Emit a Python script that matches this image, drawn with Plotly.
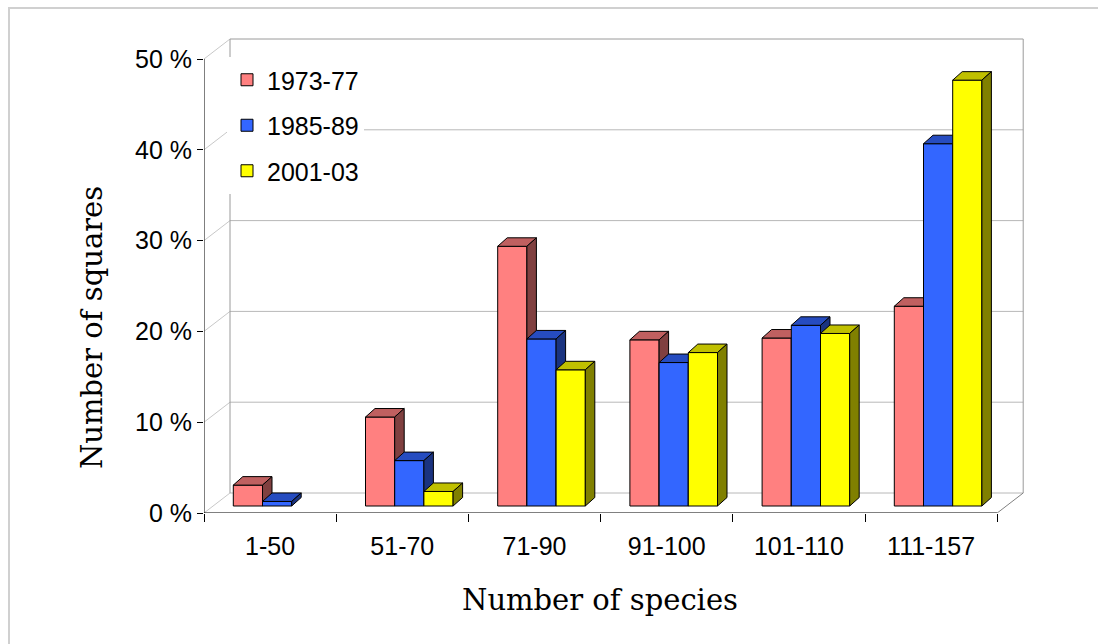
import plotly.graph_objects as go

# ---- data -------------------------------------------------------------
categories = ["1-50", "51-70", "71-90", "91-100", "101-110", "111-157"]
periods = ["1973-77", "1985-89", "2001-03"]
share_1973_77 = [2.3, 9.8, 28.6, 18.3, 18.5, 22.0]
share_1985_89 = [0.5, 5.0, 18.4, 15.8, 19.9, 39.9]
share_2001_03 = [0.0, 1.6, 15.0, 16.9, 19.0, 46.9]
y_ticks = [0, 10, 20, 30, 40, 50]

series = [share_1973_77, share_1985_89, share_2001_03]
front_colors = ["#FF8080", "#3366FF", "#FFFF00"]
top_colors = ["#C06060", "#264CC0", "#C0C000"]
side_colors = ["#804040", "#1A3380", "#808000"]

# ---- page geometry (pixels) ------------------------------------------
FIG_W, FIG_H = 1098, 644
PLOT_L, PLOT_R = 204, 1030
PLOT_T, PLOT_B = 35, 513
PX_PER_CAT = 132.2      # horizontal pixels per category
PX_PER_PCT = 9.08       # vertical pixels per percent

X0 = -0.5
X_MAX = X0 + (PLOT_R - PLOT_L) / PX_PER_CAT
Y_MAX = (PLOT_B - PLOT_T) / PX_PER_PCT


def ux(px):
    return px / PX_PER_CAT


def uy(px):
    return px / PX_PER_PCT


# oblique depth of the floor / walls, and of each bar
WALL_DX, WALL_DY = ux(26), uy(20)
BAR_SX, BAR_SY = ux(7), uy(7)        # front face of the bars sits a bit inside the floor
BAR_DX, BAR_DY = ux(9.5), uy(8.5)    # depth of a bar
BAR_W = ux(29.2)

n_cat = len(categories)
positions = list(range(n_cat))
x_left, x_right = X0, X0 + n_cat
y_top = y_ticks[-1]

fig = go.Figure()

axis_ids = [("x", "y"), ("x2", "y2"), ("x3", "y3")]
for i, (vals, name) in enumerate(zip(series, periods)):
    xa, ya = axis_ids[i]
    offset = BAR_SX + (i - 1.5) * BAR_W
    shown = [v if v > 0 else None for v in vals]
    fig.add_trace(go.Bar(
        x=positions, y=shown, base=BAR_SY, offset=offset, width=BAR_W,
        name=name, legendgroup=name, xaxis=xa, yaxis=ya,
        marker=dict(color=front_colors[i], line=dict(color="black", width=1)),
        hoverinfo="skip",
    ))
    tops_x, tops_y, sides_x, sides_y = [], [], [], []
    for p, v in zip(positions, vals):
        if v <= 0:
            continue
        a = p + offset
        b = a + BAR_W
        lo = BAR_SY
        hi = BAR_SY + v
        tops_x += [a, b, b + BAR_DX, a + BAR_DX, a, None]
        tops_y += [hi, hi, hi + BAR_DY, hi + BAR_DY, hi, None]
        sides_x += [b, b + BAR_DX, b + BAR_DX, b, b, None]
        sides_y += [lo, lo + BAR_DY, hi + BAR_DY, hi, lo, None]
    for px_, py_, col in ((tops_x, tops_y, top_colors[i]), (sides_x, sides_y, side_colors[i])):
        fig.add_trace(go.Scatter(
            x=px_, y=py_, mode="lines", fill="toself", fillcolor=col,
            line=dict(color="black", width=1), legendgroup=name,
            showlegend=False, hoverinfo="skip", xaxis=xa, yaxis=ya,
        ))

# ---- walls, floor and gridlines --------------------------------------
shapes = []


def seg(x0, y0, x1, y1, color, width=1):
    shapes.append(dict(type="line", xref="x", yref="y", x0=x0, y0=y0, x1=x1, y1=y1,
                       line=dict(color=color, width=width), layer="below"))


GRID = "#B8B8B8"
WALL = "#9A9A9A"
DIAG = "#C8C8C8"
for t in y_ticks:
    seg(x_left + WALL_DX, t + WALL_DY, x_right + WALL_DX, t + WALL_DY,
        WALL if t == y_top else GRID)
    seg(x_left, t, x_left + WALL_DX, t + WALL_DY, DIAG)
seg(x_left + WALL_DX, WALL_DY, x_left + WALL_DX, y_top + WALL_DY, WALL)
seg(x_right + WALL_DX, WALL_DY, x_right + WALL_DX, y_top + WALL_DY, WALL)
seg(x_right, 0, x_right + WALL_DX, WALL_DY, "#808080")

# front axes
seg(x_left, 0, x_left, y_top, "black")
seg(x_left, 0, x_right, 0, "black")


def px_x(px):
    return (px - PLOT_L) / (PLOT_R - PLOT_L)


def px_y(py):
    return (PLOT_B - py) / (PLOT_B - PLOT_T)


# page frame
shapes.append(dict(type="rect", xref="paper", yref="paper",
                   x0=px_x(9), x1=px_x(FIG_W + 20), y0=px_y(8), y1=px_y(FIG_H + 20),
                   line=dict(color="#D0D0D0", width=2), layer="below"))

SANS = "Liberation Sans, Arial, sans-serif"
SERIF = "DejaVu Serif, Liberation Serif, serif"

annotations = [
    dict(text="Number of species", xref="paper", yref="paper",
         x=px_x(600), y=px_y(600), showarrow=False,
         font=dict(family=SERIF, size=29, color="black"), xanchor="center", yanchor="middle"),
    dict(text="Number of squares", xref="paper", yref="paper",
         x=px_x(92), y=px_y(328), showarrow=False, textangle=-90,
         font=dict(family=SERIF, size=29, color="black"), xanchor="center", yanchor="middle"),
]

hidden_axis = dict(visible=False, range=[X0, X_MAX], fixedrange=True)
hidden_yaxis = dict(visible=False, range=[0, Y_MAX], fixedrange=True)

fig.update_layout(
    width=FIG_W, height=FIG_H,
    margin=dict(l=PLOT_L, r=FIG_W - PLOT_R, t=PLOT_T, b=FIG_H - PLOT_B, pad=0),
    paper_bgcolor="white", plot_bgcolor="white",
    barmode="overlay",
    showlegend=True,
    legend=dict(x=px_x(227), y=px_y(57), xanchor="left", yanchor="top",
                bgcolor="white", borderwidth=0, tracegroupgap=10,
                font=dict(family=SANS, size=25, color="black")),
    xaxis=dict(range=[X0, X_MAX], tickmode="array", tickvals=positions, ticktext=categories,
               ticks="", showgrid=False, zeroline=False, showline=False,
               tickfont=dict(family=SANS, size=25, color="black"), ticklabelstandoff=16,
               minor=dict(tickmode="array", tickvals=[X0 + k for k in range(n_cat + 1)],
                          ticks="outside", ticklen=8, tickcolor="black", tickwidth=1, showgrid=False),
               fixedrange=True),
    yaxis=dict(range=[0, Y_MAX], tickmode="array", tickvals=y_ticks,
               ticktext=[f"{t} %" for t in y_ticks], ticks="outside", ticklen=6,
               tickcolor="black", showgrid=False, zeroline=False, showline=False,
               tickfont=dict(family=SANS, size=25, color="black"), fixedrange=True),
    xaxis2=dict(overlaying="x", anchor="y2", **hidden_axis),
    yaxis2=dict(overlaying="y", anchor="x2", **hidden_yaxis),
    xaxis3=dict(overlaying="x", anchor="y3", **hidden_axis),
    yaxis3=dict(overlaying="y", anchor="x3", **hidden_yaxis),
    shapes=shapes,
    annotations=annotations,
)

fig.write_html("out.html")
